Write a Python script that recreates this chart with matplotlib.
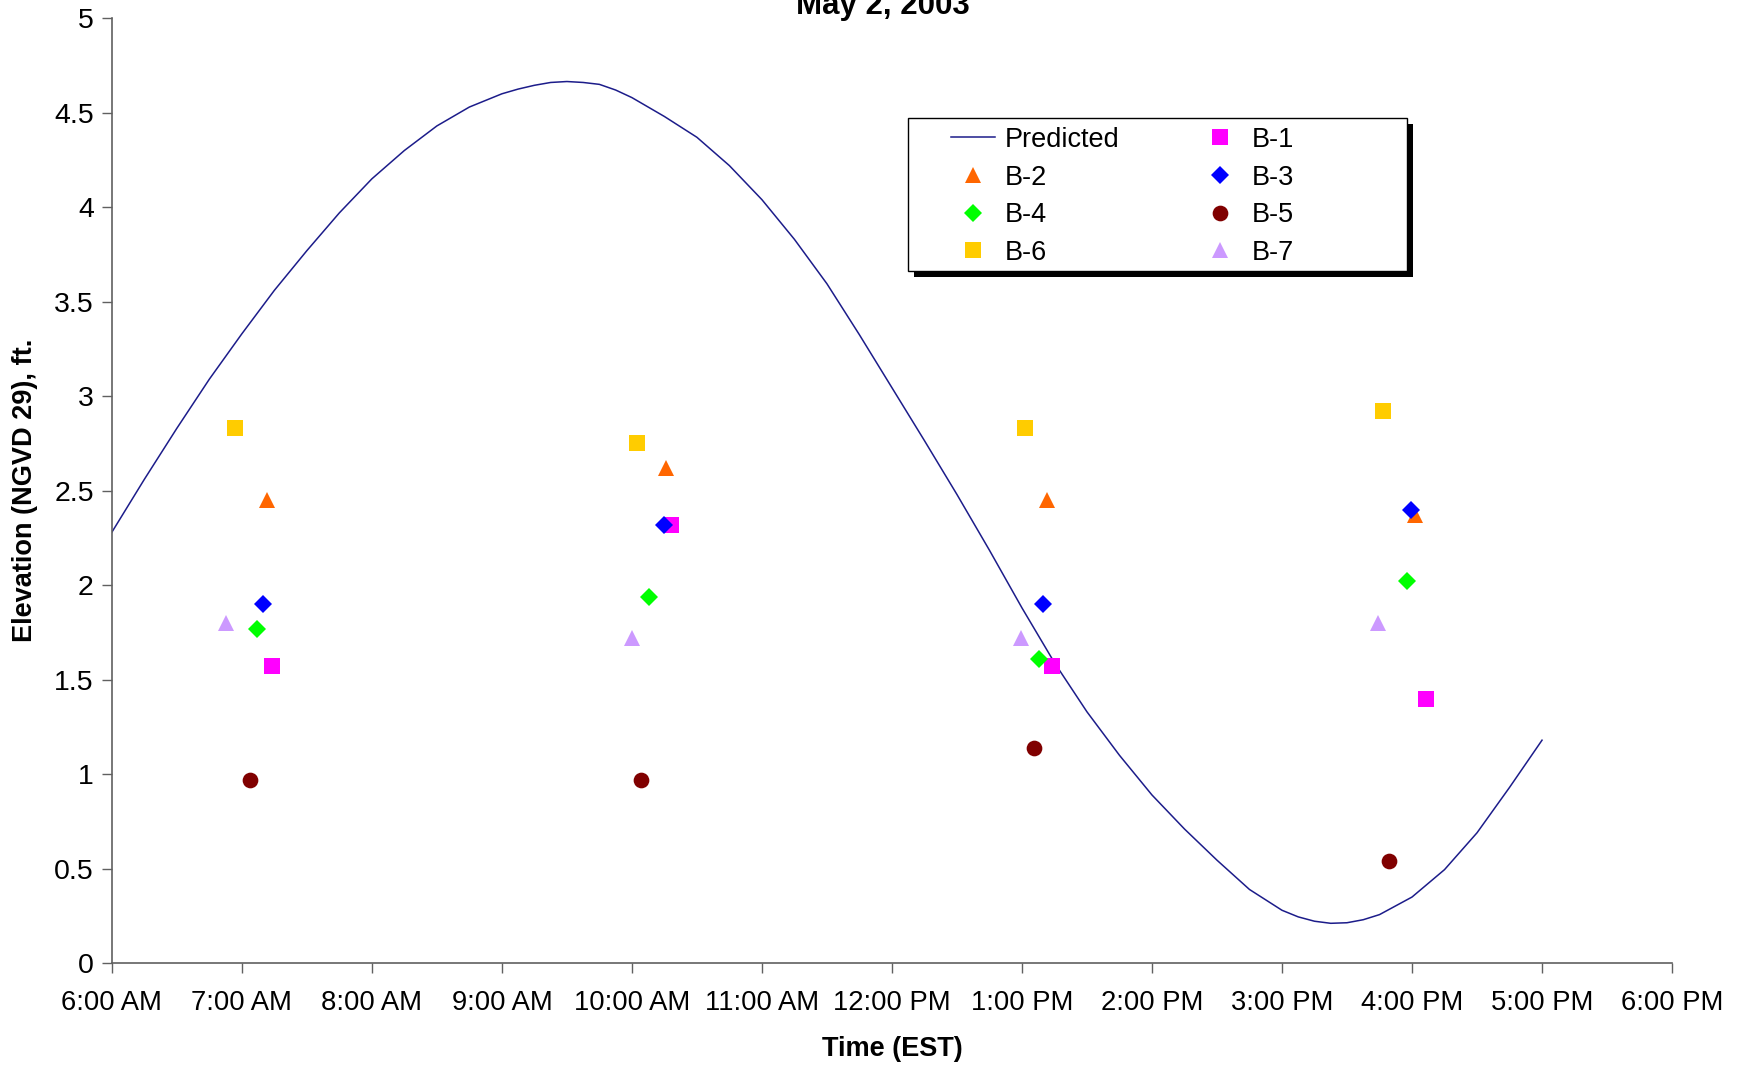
import matplotlib
matplotlib.use("Agg")
import matplotlib.pyplot as plt
from matplotlib.patches import Rectangle
from matplotlib.ticker import FuncFormatter

plt.rcParams['font.family'] = ['Liberation Sans', 'DejaVu Sans']

# predicted tide curve (hours after midnight, elevation ft)
pred_hours = [6.00, 6.25, 6.50, 6.75, 7.00, 7.25, 7.50, 7.75, 8.00, 8.25,
              8.50, 8.75, 9.00, 9.125, 9.25, 9.375, 9.50, 9.625, 9.75, 9.875,
              10.00, 10.25, 10.50, 10.75, 11.00, 11.25, 11.50, 11.75, 12.00,
              12.25, 12.50, 12.75, 13.00, 13.25, 13.50, 13.75, 14.00, 14.25,
              14.50, 14.75, 15.00, 15.125, 15.25, 15.375, 15.50, 15.625,
              15.75, 16.00, 16.25, 16.50, 16.75, 17.00]
pred_elev = [2.28, 2.56, 2.83, 3.09, 3.33, 3.56, 3.77, 3.97, 4.15, 4.30,
             4.43, 4.53, 4.60, 4.625, 4.645, 4.66, 4.665, 4.66, 4.65, 4.62,
             4.58, 4.48, 4.37, 4.22, 4.04, 3.83, 3.595, 3.325, 3.045,
             2.765, 2.48, 2.185, 1.88, 1.59, 1.33, 1.10, 0.89, 0.71,
             0.545, 0.39, 0.28, 0.245, 0.222, 0.211, 0.214, 0.23,
             0.257, 0.35, 0.495, 0.69, 0.93, 1.18]

# measured stations: times (hours) and elevations
b1_t = [7.23, 10.30, 13.23, 16.11]
b1_v = [1.57, 2.32, 1.57, 1.40]
b2_t = [7.19, 10.26, 13.19, 16.02]
b2_v = [2.45, 2.62, 2.45, 2.37]
b3_t = [7.16, 10.25, 13.16, 15.99]
b3_v = [1.90, 2.32, 1.90, 2.40]
b4_t = [7.12, 10.13, 13.13, 15.96]
b4_v = [1.77, 1.94, 1.61, 2.02]
b5_t = [7.06, 10.07, 13.09, 15.82]
b5_v = [0.97, 0.97, 1.14, 0.54]
b6_t = [6.95, 10.04, 13.02, 15.78]
b6_v = [2.83, 2.75, 2.83, 2.92]
b7_t = [6.88, 10.00, 12.99, 15.74]
b7_v = [1.80, 1.72, 1.72, 1.80]

stations = [
    ('B-1', b1_t, b1_v, 's', '#ff00ff', 11.3),
    ('B-2', b2_t, b2_v, '^', '#ff6600', 11.5),
    ('B-3', b3_t, b3_v, 'D', '#0000ff', 9.3),
    ('B-4', b4_t, b4_v, 'D', '#00ff00', 9.3),
    ('B-5', b5_t, b5_v, 'o', '#800000', 11.3),
    ('B-6', b6_t, b6_v, 's', '#ffcc00', 11.3),
    ('B-7', b7_t, b7_v, '^', '#cc99ff', 11.5),
]

fig = plt.figure(figsize=(17.39, 10.65), dpi=100)
ax = fig.add_axes([0.0643, 0.0956, 0.8972, 0.8873])

handles = {}
handles['Predicted'], = ax.plot(pred_hours, pred_elev, color='#1c1c8a', lw=1.1,
                                label='Predicted')
for name, t, v, m, c, ms in stations:
    handles[name], = ax.plot(t, v, ls='none', marker=m, color=c, ms=ms,
                             markeredgewidth=0, label=name)

ax.set_xlim(6, 18)
ax.set_ylim(0, 5)
ax.set_xticks(range(6, 19))
ax.set_yticks([i * 0.5 for i in range(11)])


def fmt_time(h, pos):
    h = int(round(h))
    suffix = 'AM' if h < 12 else 'PM'
    hh = h % 12
    if hh == 0:
        hh = 12
    return f'{hh}:00 {suffix}'


ax.xaxis.set_major_formatter(FuncFormatter(fmt_time))
ax.yaxis.set_major_formatter(FuncFormatter(lambda v, p: f'{v:g}'))
ax.tick_params(axis='both', length=7, width=1, color='#606060',
               direction='out')
ax.tick_params(axis='x', pad=12, labelsize=19.7)
ax.tick_params(axis='y', pad=6, labelsize=20.5)

for s in ['top', 'right']:
    ax.spines[s].set_visible(False)
for s in ['left', 'bottom']:
    ax.spines[s].set_color('#606060')
    ax.spines[s].set_linewidth(1.2)

ax.set_xlabel('Time (EST)', fontsize=19.5, fontweight='bold')
ax.set_ylabel('Elevation (NGVD 29), ft.', fontsize=19.5, fontweight='bold')
ax.xaxis.set_label_coords(0.5, -0.077)
ax.yaxis.set_label_coords(-0.047, 0.5)

fig.text(0.5078, 0.9864, 'May 2, 2003', fontsize=22.5, fontweight='bold',
         ha='center', va='baseline')

# legend box with a hard black shadow
bx, by, bw, bh = 0.5221, 0.7455, 0.2870, 0.1437
fig.patches.append(Rectangle((bx + 6 / 1739, by - 6 / 1065), bw, bh,
                             transform=fig.transFigure, facecolor='black',
                             edgecolor='none', zorder=5))
fig.patches.append(Rectangle((bx, by), bw, bh, transform=fig.transFigure,
                             facecolor='white', edgecolor='black', lw=1.0,
                             zorder=6))

order = ['Predicted', 'B-2', 'B-4', 'B-6', 'B-1', 'B-3', 'B-5', 'B-7']
leg = fig.legend([handles[k] for k in order], order, ncol=2, frameon=False,
                 loc='upper left', bbox_to_anchor=(0.5469, 0.8808),
                 bbox_transform=fig.transFigure, borderpad=0, borderaxespad=0,
                 fontsize=19.5, handlelength=1.63, handletextpad=0.35,
                 columnspacing=2.9, labelspacing=0.43, numpoints=1)
leg.set_zorder(7)

fig.savefig('out.png', dpi=100)
